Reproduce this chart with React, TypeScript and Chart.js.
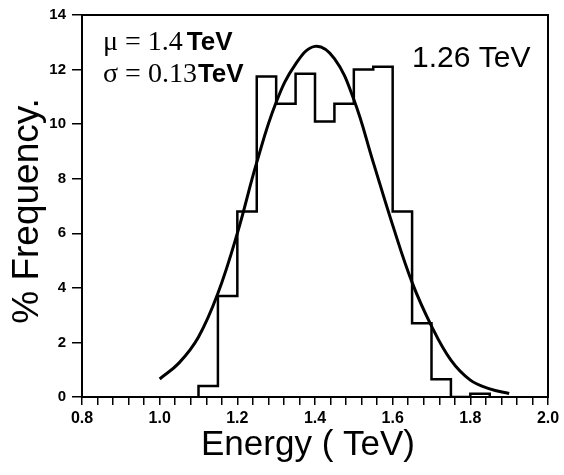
import React, { useEffect, useRef } from "react";
import { Chart, registerables } from "chart.js";
Chart.register(...registerables);

// Histogram bins (TeV) and % frequency
const binEdges = [1.10, 1.15, 1.20, 1.25, 1.30, 1.35, 1.40, 1.45, 1.50, 1.55, 1.60, 1.65, 1.70, 1.75, 1.80, 1.85];
const binValues = [0.4, 3.7, 6.8, 11.75, 10.75, 11.85, 10.1, 10.75, 12.0, 12.1, 6.8, 2.7, 0.65, 0, 0.12];

// Gaussian fit curve
const fitX = [1.00, 1.05, 1.10, 1.15, 1.20, 1.25, 1.30, 1.35, 1.40, 1.45, 1.50, 1.55, 1.60, 1.65, 1.70, 1.75, 1.80, 1.85, 1.90];
const fitY = [0.66, 1.25, 2.2, 3.8, 6.0, 8.6, 10.8, 12.2, 12.85, 12.4, 10.9, 8.6, 6.3, 4.2, 2.6, 1.35, 0.62, 0.3, 0.13];

// Axes
const xMajorTicks = [0.8, 1.0, 1.2, 1.4, 1.6, 1.8, 2.0];
const xMinorPerMajor = 5;
const yTicks = [0, 2, 4, 6, 8, 10, 12, 14];

const xTitle = "Energy ( TeV)";
const yTitle = "% Frequency.";
const energyLabel = "1.26 TeV";
const muSymbol = "\u03bc = 1.4";
const sigmaSymbol = "\u03c3 = 0.13";
const unitText = "TeV";

const SANS = "'Liberation Sans', Arial, sans-serif";
const SERIF = "'Liberation Serif', 'Times New Roman', serif";

export default function App() {
  const ref = useRef<HTMLCanvasElement | null>(null);

  useEffect(() => {
    const canvas = ref.current;
    if (!canvas) return;

    const histPoints: { x: number; y: number }[] = [{ x: binEdges[0], y: 0 }];
    binValues.forEach((v, i) => histPoints.push({ x: binEdges[i], y: v }));
    histPoints.push({ x: binEdges[binEdges.length - 1], y: 0 });

    const fitPoints = fitX.map((x, i) => ({ x, y: fitY[i] }));

    const xTickValues: number[] = [];
    for (let i = 0; i < xMajorTicks.length - 1; i++) {
      const a = xMajorTicks[i];
      const b = xMajorTicks[i + 1];
      for (let k = 0; k < xMinorPerMajor; k++) xTickValues.push(a + ((b - a) * k) / xMinorPerMajor);
    }
    xTickValues.push(xMajorTicks[xMajorTicks.length - 1]);

    const annot = {
      id: "annot",
      afterDraw(chart: any) {
        const ctx = chart.ctx;
        const a = chart.chartArea;
        ctx.save();
        ctx.strokeStyle = "#000";
        ctx.lineWidth = 2;
        ctx.strokeRect(a.left, a.top, a.right - a.left, a.bottom - a.top);

        ctx.fillStyle = "#000";
        ctx.textBaseline = "alphabetic";
        // x title
        ctx.font = `35px ${SANS}`;
        ctx.textAlign = "center";
        ctx.fillText(xTitle, 308, 455);
        // y title
        ctx.save();
        ctx.font = `37px ${SANS}`;
        ctx.translate(38, 211);
        ctx.rotate(-Math.PI / 2);
        ctx.fillText(yTitle, 0, 0);
        ctx.restore();
        // 1.26 TeV
        ctx.textAlign = "left";
        ctx.font = `30px ${SANS}`;
        ctx.fillText(energyLabel, 412, 67);
        // mu / sigma
        ctx.font = `28px ${SERIF}`;
        ctx.fillText(muSymbol, 103, 50);
        let w = ctx.measureText(muSymbol).width;
        ctx.font = `bold 26px ${SANS}`;
        ctx.fillText(unitText, 103 + w + 4, 50);
        ctx.font = `28px ${SERIF}`;
        ctx.fillText(sigmaSymbol, 103, 82);
        w = ctx.measureText(sigmaSymbol).width;
        ctx.font = `bold 26px ${SANS}`;
        ctx.fillText(unitText, 103 + w + 1, 82);
        ctx.restore();
      },
    };

    const chart = new Chart(canvas, {
      type: "scatter",
      data: {
        datasets: [
          {
            data: histPoints,
            showLine: true,
            stepped: "before",
            borderColor: "#000",
            borderWidth: 2.5,
            pointRadius: 0,
            fill: false,
          },
          {
            data: fitPoints,
            showLine: true,
            tension: 0.4,
            borderColor: "#000",
            borderWidth: 3,
            pointRadius: 0,
            fill: false,
          },
        ],
      },
      options: {
        responsive: false,
        animation: false,
        layout: { padding: { top: 13, right: 16, left: 0, bottom: 0 } },
        plugins: { legend: { display: false }, tooltip: { enabled: false } },
        scales: {
          x: {
            type: "linear",
            min: 0.8,
            max: 2.0,
            afterBuildTicks: (axis: any) => {
              axis.ticks = xTickValues.map((v) => ({ value: v }));
            },
            afterFit: (axis: any) => {
              axis.height = 78;
            },
            ticks: {
              autoSkip: false,
              maxRotation: 0,
              padding: 4,
              color: "#000",
              font: { family: SANS, size: 16, weight: "bold" },
              callback: (v: any) => {
                const m = xMajorTicks.find((t) => Math.abs(t - Number(v)) < 1e-6);
                return m === undefined ? "" : m.toFixed(1);
              },
            },
            grid: { drawOnChartArea: false, drawTicks: true, tickLength: 8, color: "#000", lineWidth: 1.5 },
            border: { display: true, color: "#000", width: 2 },
          },
          y: {
            type: "linear",
            min: 0,
            max: 14,
            afterBuildTicks: (axis: any) => {
              axis.ticks = yTicks.map((v) => ({ value: v }));
            },
            afterFit: (axis: any) => {
              axis.width = 82;
            },
            ticks: {
              padding: 6,
              color: "#000",
              font: { family: SANS, size: 15, weight: "bold" },
              callback: (v: any) => String(v),
            },
            grid: { drawOnChartArea: false, drawTicks: true, tickLength: 10, color: "#000", lineWidth: 1.5 },
            border: { display: true, color: "#000", width: 2 },
          },
        },
      },
      plugins: [annot],
    } as any);

    return () => chart.destroy();
  }, []);

  return (
    <div style={{ position: "absolute", left: 0, top: 0, width: 564, height: 475, background: "#fff" }}>
      <canvas ref={ref} width={564} height={475} />
    </div>
  );
}
